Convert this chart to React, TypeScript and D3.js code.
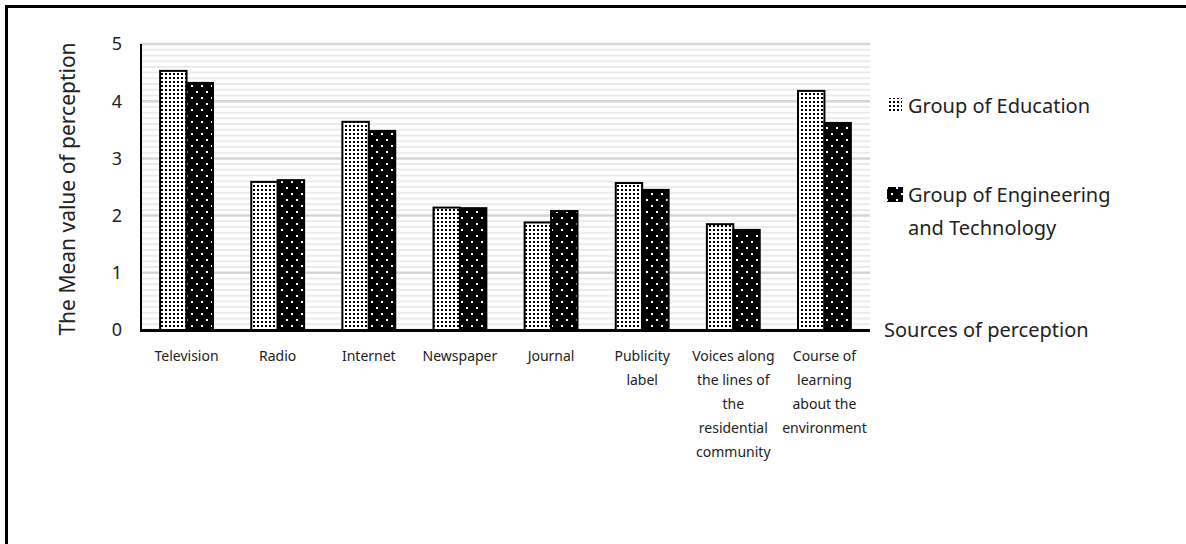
import React from "react";
import * as d3 from "d3";

const categories: string[][] = [
  ["Television"],
  ["Radio"],
  ["Internet"],
  ["Newspaper"],
  ["Journal"],
  ["Publicity", "label"],
  ["Voices along", "the lines of", "the", "residential", "community"],
  ["Course of", "learning", "about the", "environment"],
];
const education: number[] = [4.53, 2.59, 3.64, 2.14, 1.88, 2.57, 1.85, 4.18];
const engineering: number[] = [4.32, 2.62, 3.48, 2.13, 2.08, 2.45, 1.75, 3.62];
const yTicks: number[] = [0, 1, 2, 3, 4, 5];
const seriesNames: string[] = ["Group of Education", "Group of Engineering", "and Technology"];

const W = 1186;
const H = 544;
const left = 141;
const right = 870;
const top = 44;
const bottom = 330;
const FONT = "'Noto Sans', 'Open Sans', sans-serif";

export default function App() {
  const x = d3
    .scaleBand<number>()
    .domain(categories.map((_, i) => i))
    .range([left, right])
    .paddingInner(0.42)
    .paddingOuter(0.21);
  const sub = d3
    .scaleBand<string>()
    .domain(["edu", "eng"])
    .range([0, x.bandwidth()]);
  const y = d3.scaleLinear().domain([0, 5]).range([bottom, top]);
  const minor = d3.range(0, 50).map((d) => d / 10).filter((d) => Math.abs(d - Math.round(d)) > 1e-6);

  return (
    <svg
      width={W}
      height={H}
      style={{ position: "absolute", left: 0, top: 0, background: "#fff" }}
      fontFamily={FONT}
    >
      <defs>
        <pattern id="eduPat" width="4" height="4" patternUnits="userSpaceOnUse">
          <rect width="4" height="4" fill="#fff" />
          <rect x="1" y="1" width="2" height="2" fill="#000" />
        </pattern>
        <pattern id="engPat" width="10" height="12" patternUnits="userSpaceOnUse">
          <rect width="10" height="12" fill="#000" />
          <rect x="1" y="1" width="2" height="2" fill="#fff" />
          <rect x="6" y="7" width="2" height="2" fill="#fff" />
        </pattern>
      </defs>

      {/* frame */}
      <line x1={6} x2={W} y1={6.5} y2={6.5} stroke="#000" strokeWidth={3} />
      <line x1={6.5} x2={6.5} y1={5} y2={H} stroke="#000" strokeWidth={3} />

      {/* minor grid */}
      {minor.map((v) => (
        <line key={"m" + v} x1={left} x2={right} y1={y(v)} y2={y(v)} stroke="#ebebeb" strokeWidth={2} />
      ))}
      {yTicks.map((v) => (
        <line key={"g" + v} x1={left} x2={right} y1={y(v)} y2={y(v)} stroke="#d4d4d4" strokeWidth={2.5} />
      ))}

      {/* bars */}
      {categories.map((_, i) => (
        <g key={"b" + i}>
          <rect
            x={(x(i) as number) + (sub("edu") as number)}
            y={y(education[i])}
            width={sub.bandwidth()}
            height={y(0) - y(education[i])}
            fill="url(#eduPat)"
            stroke="#000"
            strokeWidth={2}
          />
          <rect
            x={(x(i) as number) + (sub("eng") as number)}
            y={y(engineering[i])}
            width={sub.bandwidth()}
            height={y(0) - y(engineering[i])}
            fill="url(#engPat)"
            stroke="#000"
            strokeWidth={2}
          />
        </g>
      ))}

      {/* axes */}
      <line x1={left} x2={left} y1={top} y2={bottom} stroke="#000" strokeWidth={2} />
      <line x1={left - 1} x2={right} y1={bottom + 0.5} y2={bottom + 0.5} stroke="#000" strokeWidth={3} />

      {yTicks.map((v) => (
        <text key={"t" + v} x={117} y={y(v)} dy="0.35em" textAnchor="middle" fontSize={18} fill="#222">
          {v}
        </text>
      ))}

      <text
        transform={`translate(75, ${(top + bottom) / 2 + 2}) rotate(-90)`}
        textAnchor="middle"
        fontSize={21}
        fill="#222"
      >
        The Mean value of perception
      </text>

      {categories.map((lines, i) => (
        <text
          key={"c" + i}
          x={(x(i) as number) + x.bandwidth() / 2}
          y={361}
          textAnchor="middle"
          fontSize={14}
          fill="#222"
        >
          {lines.map((l, j) => (
            <tspan key={j} x={(x(i) as number) + x.bandwidth() / 2} dy={j === 0 ? 0 : 24}>
              {l}
            </tspan>
          ))}
        </text>
      ))}

      <text x={884} y={bottom} dy="0.35em" fontSize={20} fill="#222">
        Sources of perception
      </text>

      {/* legend */}
      <rect x={888} y={98} width={14} height={14} fill="url(#eduPat)" />
      <text x={908} y={106} dy="0.35em" fontSize={20} fill="#222">
        {seriesNames[0]}
      </text>
      <rect x={887} y={187} width={16} height={15} fill="url(#engPat)" />
      <text x={908} y={195} dy="0.35em" fontSize={20} fill="#222">
        {seriesNames[1]}
      </text>
      <text x={908} y={228} dy="0.35em" fontSize={20} fill="#222">
        {seriesNames[2]}
      </text>
    </svg>
  );
}
